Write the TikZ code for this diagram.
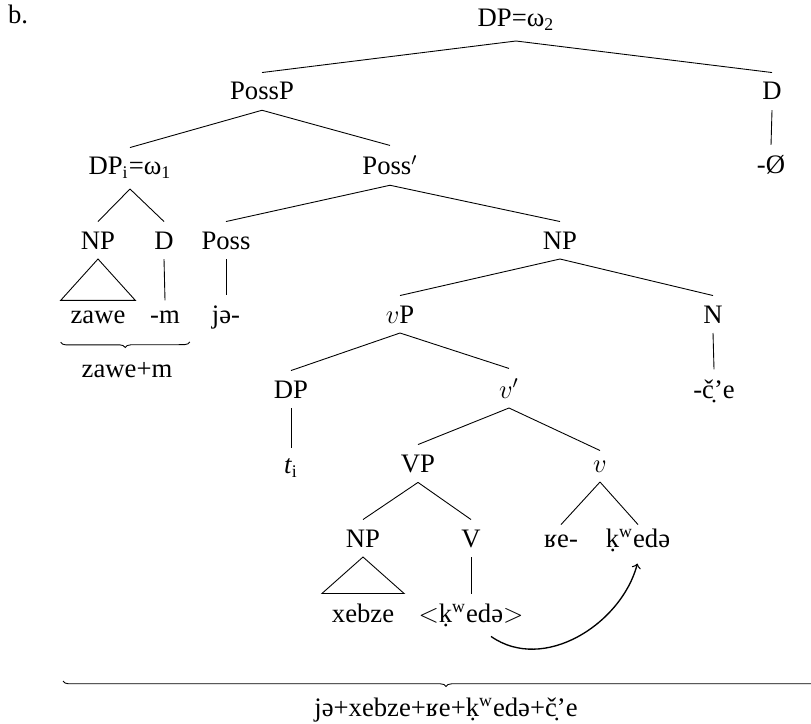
\documentclass[tikz,border=0pt,12pt]{standalone}
\usepackage{fontspec}
\setmainfont{Liberation Serif}
\usetikzlibrary{decorations.pathreplacing}

\tikzset{
  lbl/.style={inner sep=4.3pt, anchor=base},
  lowleaf/.style={lbl, text height=5.6pt},
  under/.style={decorate, decoration={brace, mirror, amplitude=2.5pt}},
  moveline/.style={semithick, ->, shorten >=1pt},
}

\begin{document}
\begin{tikzpicture}[x=0.45pt, y=-0.45pt]
        \useasboundingbox (0,0) rectangle (811,723);
        %label of the example
        \node[lbl] (ex) at (18,24) {b.};

        %top of the tree
        \node[lbl] (dp2) at (516,27) {DP=ω\textsubscript{2}};
        \node[lbl] (possp) at (262,100) {PossP};
        \node[lbl] (dr) at (772,100) {D};
        \node[lbl] (zero) at (771,173) {-Ø};
        \node[lbl] (dpi) at (130,175) {DP\textsubscript{i}=ω\textsubscript{1}};
        \node[lbl] (possbar) at (390,175) {Poss$'$};

        %possessor and possessive marker
        \node[lbl] (npl) at (98,249) {NP};
        \node[lbl] (dl) at (164,249) {D};
        \node[lbl] (poss) at (226,249) {Poss};
        \node[lbl] (npr) at (560,249) {NP};
        \node[lbl] (zawe) at (98,323) {zawe};
        \node[lbl] (dm) at (165,323) {-m};
        \node[lbl] (jo) at (226,323) {jə-};
        \node[lbl] (zm) at (127,377) {zawe+m};

        %possessed noun phrase
        \node[lbl] (vp) at (400,323) {$v$P};
        \node[lbl] (n) at (713,323) {N};
        \node[lbl] (ce) at (714,398) {-č̣’e};
        \node[lbl] (dp) at (291,398) {DP};
        \node[lbl] (vbar) at (509,398) {$v'$};
        \node[lbl] (ti) at (291,473) {\textit{t}\textsubscript{i}};
        \node[lbl] (vpbig) at (418,472) {VP};
        \node[lbl] (vs) at (600,472) {$v$};
        \node[lbl] (np2) at (363,547) {NP};
        \node[lbl] (vv) at (471,547) {V};
        \node[lowleaf] (re) at (561,547) {ʁe-};
        \node[lowleaf] (kw) at (638,547) {ḳ\textsuperscript{w}edə};
        \node[lbl] (xebze) at (363,622) {xebze};
        \node[lbl] (vtrace) at (471,622) {$<$ḳ\textsuperscript{w}edə$>$};

        %branches
        \draw (dp2.south) -- (possp.north) (dp2.south) -- (dr.north);
        \draw (dr.south) -- (zero.north);
        \draw (possp.south) -- (dpi.north) (possp.south) -- (possbar.north);
        \draw (dpi.south) -- (npl.north) (dpi.south) -- (dl.north);
        \draw (possbar.south) -- (poss.north) (possbar.south) -- (npr.north);
        \draw (npl.south) -- (zawe.north west) -- (zawe.north east) -- cycle;
        \draw (dl.south) -- (dm.north);
        \draw (poss.south) -- (jo.north);
        \draw (npr.south) -- (vp.north) (npr.south) -- (n.north);
        \draw (n.south) -- (ce.north);
        \draw (vp.south) -- (dp.north) (vp.south) -- (vbar.north);
        \draw (dp.south) -- (ti.north);
        \draw (vbar.south) -- (vpbig.north) (vbar.south) -- (vs.north);
        \draw (vpbig.south) -- (np2.north) (vpbig.south) -- (vv.north);
        \draw (vs.south) -- (re.north) (vs.south) -- (kw.north);
        \draw (np2.south) -- (xebze.north west) -- (xebze.north east) -- cycle;
        \draw (vv.south) -- (vtrace.north);

        %head movement of the verb
        \draw[moveline] ([xshift=9pt]vtrace.south) to[out=-35, in=-105] (kw.south);

        %braces for the word forms
        \draw[under] ([yshift=-4pt]zawe.south west) -- ([yshift=-4pt]dm.south east);
        \coordinate (bl) at (63,681);
        \coordinate (br) at (829,681);
        \draw[under] (bl) -- (br);
        \node[lbl] (word) at (446,716) {jə+xebze+ʁe+ḳ\textsuperscript{w}edə+č̣’e};
\end{tikzpicture}
\end{document}
